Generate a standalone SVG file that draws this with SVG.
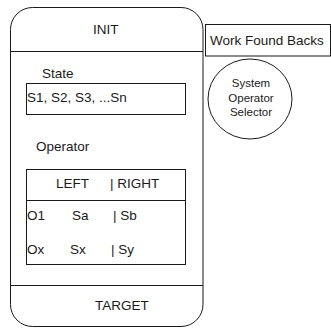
<svg xmlns="http://www.w3.org/2000/svg" width="331" height="328" viewBox="0 0 331 328">
<style>
.s{fill:none;stroke:#1a1a1a;stroke-width:1}
.t{font-family:"Liberation Sans",Arial,sans-serif;font-size:13.5px;fill:#1a1a1a}
.c{font-family:"Liberation Sans",Arial,sans-serif;font-size:11.5px;fill:#1a1a1a;text-anchor:middle}
</style>
<rect width="331" height="328" fill="#fff"/>
<g id="frame">
<rect class="s" x="10.5" y="7.5" width="192.5" height="319" rx="22" ry="22"/>
<line class="s" x1="10.5" y1="51.5" x2="203" y2="51.5"/>
<line class="s" x1="10.5" y1="285.5" x2="203" y2="285.5"/>
<text class="t" x="93" y="34">INIT</text>
<text class="t" x="95" y="310">TARGET</text>
</g>
<g id="state">
<text class="t" x="42" y="78">State</text>
<rect class="s" x="26.5" y="83.5" width="159" height="31"/>
<text class="t" x="27" y="102">S1, S2, S3, ...Sn</text>
</g>
<g id="operator">
<text class="t" x="36" y="151">Operator</text>
<rect class="s" x="26.5" y="169.5" width="159" height="95"/>
<line class="s" x1="26.5" y1="200.5" x2="185.5" y2="200.5"/>
<text class="t" x="56" y="188">LEFT</text>
<text class="t" x="110" y="188">| RIGHT</text>
<text class="t" x="27" y="220">O1</text>
<text class="t" x="72" y="220">Sa</text>
<text class="t" x="113" y="220">| Sb</text>
<text class="t" x="27" y="254">Ox</text>
<text class="t" x="70" y="254">Sx</text>
<text class="t" x="111" y="254">| Sy</text>
</g>
<g id="work-found-backs">
<rect class="s" x="205.5" y="24.5" width="125" height="31.5"/>
<text class="t" x="210" y="45">Work Found Backs</text>
</g>
<g id="system-operator-selector">
<ellipse class="s" cx="250" cy="99" rx="42" ry="40"/>
<text class="c" x="251" y="87">System</text>
<text class="c" x="251" y="102">Operator</text>
<text class="c" x="251" y="116">Selector</text>
</g>
<g id="connectors"></g>
</svg>
